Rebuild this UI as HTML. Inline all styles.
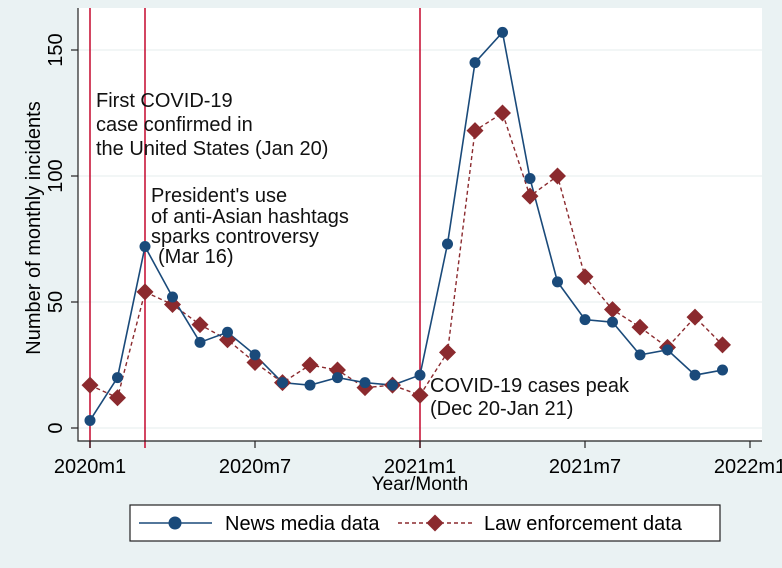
<!DOCTYPE html>
<html><head><meta charset="utf-8"><style>
body{margin:0;background:#eaf2f3;}
svg{display:block;font-family:"Liberation Sans",sans-serif;}
</style></head><body>
<svg width="782" height="568" viewBox="0 0 782 568">
<rect x="0" y="0" width="782" height="568" fill="#eaf2f3"/>
<rect x="78" y="8" width="684" height="433" fill="#fff"/>
<g id="grid"></g>
<g id="vlines"></g>
<g id="axes"></g>
<g id="series"></g>
<g id="notes" font-size="20" fill="#111">
<text x="96" y="107">First COVID-19</text>
<text x="96" y="131">case confirmed in</text>
<text x="96" y="155">the United States (Jan 20)</text>
<text x="151" y="202">President's use</text>
<text x="151" y="223">of anti-Asian hashtags</text>
<text x="151" y="243">sparks controversy</text>
<text x="158" y="263">(Mar 16)</text>
<text x="430" y="392">COVID-19 cases peak</text>
<text x="430" y="415">(Dec 20-Jan 21)</text>
</g>
<text x="420" y="490" font-size="19" text-anchor="middle">Year/Month</text>
<text transform="translate(40,228) rotate(-90)" font-size="20" text-anchor="middle">Number of monthly incidents</text>
<g>
<rect x="130" y="505" width="590" height="36" fill="#fff" stroke="#222" stroke-width="1.2"/>
<line x1="139" y1="523" x2="212" y2="523" stroke="#1a4a7a" stroke-width="1.6"/>
<circle cx="175" cy="523" r="6.5" fill="#1a4a7a"/>
<text x="225" y="530" font-size="20">News media data</text>
<line x1="398" y1="523" x2="473" y2="523" stroke="#8b2a2e" stroke-width="1.4" stroke-dasharray="4,3"/>
<rect x="429" y="517" width="12" height="12" fill="#8b2a2e" transform="rotate(45 435 523)"/>
<text x="484" y="530" font-size="20">Law enforcement data</text>
</g>
</svg>
<script>
const news=[3,20,72,52,34,38,29,18,17,20,18,17,21,73,145,157,99,58,43,42,29,31,21,23];
const law=[17,12,54,49,41,35,26,18,25,23,16,17,13,30,118,125,92,100,60,47,40,32,44,33];
const yTicks=[0,50,100,150];
const xTickMonths=[0,6,12,18,24];
const xTickLabels=["2020m1","2020m7","2021m1","2021m7","2022m1"];
const eventMonths=[0,2,12];
const NS="http://www.w3.org/2000/svg";
function X(m){return 90+m*27.5;}
function Y(v){return 428-v*2.52;}
function mk(tag,attrs,parent){const e=document.createElementNS(NS,tag);for(const k in attrs)e.setAttribute(k,attrs[k]);document.getElementById(parent).appendChild(e);return e;}
yTicks.forEach(t=>{
 const g=mk('line',{x1:78,x2:762,y1:Y(t),y2:Y(t),stroke:'#e6eeee','stroke-width':1},'grid');
 
 
 const tk=mk('line',{x1:71,x2:78,y1:Y(t),y2:Y(t),stroke:'#222','stroke-width':1.2},'axes');
 
 
 const tx=mk('text',{transform:`translate(62,${Y(t)}) rotate(-90)`,'font-size':20,'text-anchor':'middle'},'axes');
 tx.textContent=t;
 
 
});
eventMonths.forEach(m=>{
 const l=mk('line',{x1:X(m),x2:X(m),y1:8,y2:448,stroke:'#c8173a','stroke-width':1.6},'vlines');
 
 
});
const ax=mk('path',{d:'M78,8 L78,441 L762,441',fill:'none',stroke:'#222','stroke-width':1.2},'axes');


xTickMonths.forEach((m,i)=>{
 const tk=mk('line',{x1:X(m),x2:X(m),y1:441,y2:448,stroke:'#222','stroke-width':1.2},'axes');
 
 
 const tx=mk('text',{x:X(m),y:473,'font-size':20,'text-anchor':'middle'},'axes');
 tx.textContent=xTickLabels[i];
 
 
});
const lp=mk('polyline',{points:law.map((v,i)=>X(i)+','+Y(v)).join(' '),fill:'none',stroke:'#8b2a2e','stroke-width':1.4,'stroke-dasharray':'4,3'},'series');


const np=mk('polyline',{points:news.map((v,i)=>X(i)+','+Y(v)).join(' '),fill:'none',stroke:'#1a4a7a','stroke-width':1.6},'series');


law.forEach((v,i)=>{
 const r=mk('rect',{x:X(i)-6,y:Y(v)-6,width:12,height:12,fill:'#8b2a2e',transform:`rotate(45 ${X(i)} ${Y(v)})`},'series');
 
 
});
news.forEach((v,i)=>{
 const c=mk('circle',{cx:X(i),cy:Y(v),r:5.5,fill:'#1a4a7a'},'series');
 
 
});
</script>
</body></html>
